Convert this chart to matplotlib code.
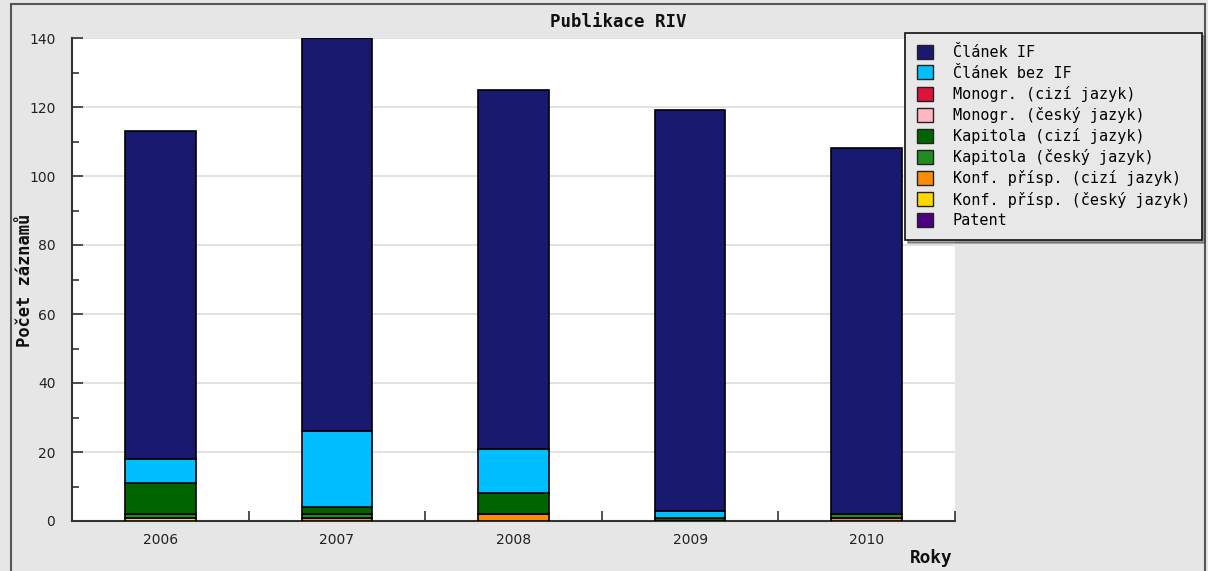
import numpy as np
import matplotlib
matplotlib.use("Agg")
import matplotlib.pyplot as plt
from matplotlib.patches import Rectangle

years = ["2006", "2007", "2008", "2009", "2010"]
series_names = ["Článek IF", "Článek bez IF", "Monogr. (cizí jazyk)", "Monogr. (český jazyk)",
                "Kapitola (cizí jazyk)", "Kapitola (český jazyk)", "Konf. přísp. (cizí jazyk)",
                "Konf. přísp. (český jazyk)", "Patent"]
clanek_if = [95, 114, 104, 116, 106]
clanek_bez_if = [7, 22, 13, 2, 0]
monogr_cizi = [0, 0, 0, 0, 0]
monogr_cesky = [0, 0, 0, 0, 0]
kapitola_cizi = [9, 2, 6, 1, 0]
kapitola_cesky = [1, 1, 0, 0, 1]
konf_cizi = [0, 1, 2, 0, 1]
konf_cesky = [1, 0, 0, 0, 0]
patent = [0, 0, 0, 0, 0]
colors = ["#191970", "#00bfff", "#dc143c", "#ffb6c1", "#006400", "#228b22", "#ff8c00", "#ffd700", "#4b0082"]

series = [clanek_if, clanek_bez_if, monogr_cizi, monogr_cesky, kapitola_cizi,
          kapitola_cesky, konf_cizi, konf_cesky, patent]

W, H = 1208, 571
fig = plt.figure(figsize=(W / 100, H / 100), dpi=100)
fig.patch.set_facecolor("#e6e6e6")
fig.add_artist(Rectangle((11 / W, -0.05), (1205 - 11) / W, 1.05 - 4 / H, transform=fig.transFigure,
                         fill=False, edgecolor="#555555", linewidth=1.5))

ax = fig.add_axes([72 / W, (H - 521) / H, 883 / W, 483 / H])
ax.set_facecolor("white")
x = np.arange(len(years))
bottom = np.zeros(len(years))
handles = []
for name, vals, col in zip(series_names[::-1], series[::-1], colors[::-1]):
    v = np.array(vals, dtype=float)
    m = v > 0
    if m.any():
        ax.bar(x[m], v[m], bottom=bottom[m], width=0.4, color=col, edgecolor="black", linewidth=1.2, zorder=3)
    bottom += v
for name, col in zip(series_names, colors):
    handles.append(Rectangle((0, 0), 1, 1, facecolor=col, edgecolor="#222222", linewidth=1.0, label=name))

ax.set_xlim(-0.5, 4.5)
ax.set_ylim(0, 140)
ax.set_yticks(np.arange(0, 141, 20))
ax.set_yticks(np.arange(0, 141, 10), minor=True)
ax.yaxis.grid(True, which="major", color="#dddddd", linewidth=1.2, zorder=0)
ax.set_xticks(np.arange(0.5, 5, 1.0))
ax.set_xticklabels([])
ax.set_xticks(x, minor=True)
ax.set_xticklabels(years, minor=True)
ax.tick_params(axis="x", which="major", direction="in", length=7, width=1.2, color="#333333")
ax.tick_params(axis="x", which="minor", length=0, pad=9, labelsize=10, labelcolor="#222222")
ax.tick_params(axis="y", which="major", direction="in", length=8, width=1.2, color="#333333",
               pad=12, labelsize=10, labelcolor="#222222")
ax.tick_params(axis="y", which="minor", direction="in", length=5, width=1.2, color="#333333")
for s in ["top", "right"]:
    ax.spines[s].set_visible(False)
for s in ["left", "bottom"]:
    ax.spines[s].set_color("#333333")
    ax.spines[s].set_linewidth(1.5)

mono = "DejaVu Sans Mono"
fig.text(618 / W, 1 - 22 / H, "Publikace RIV", ha="center", va="center", family=mono,
         fontweight="bold", fontsize=12.5, color="#111111")
fig.text(25 / W, 1 - 280 / H, "Počet záznamů", ha="center", va="center", rotation=90,
         family=mono, fontweight="bold", fontsize=12.3, color="#111111")
fig.text(931 / W, 1 - 558 / H, "Roky", ha="center", va="center", family=mono,
         fontweight="bold", fontsize=12.8, color="#111111")

leg = fig.legend(handles=handles, loc="upper left", bbox_to_anchor=(905 / W, 1 - 33 / H),
                 prop={"family": mono, "size": 10.9}, frameon=True, fancybox=False, shadow=True,
                 handlelength=1.05, handleheight=1.05, labelspacing=0.34, handletextpad=1.3,
                 borderpad=0.8, borderaxespad=0)
leg.get_frame().set_facecolor("#e8e8e8")
leg.get_frame().set_edgecolor("#111111")
leg.get_frame().set_linewidth(1.2)
leg.get_frame().set_alpha(1)

fig.savefig("out.png", dpi=100, facecolor=fig.get_facecolor())
